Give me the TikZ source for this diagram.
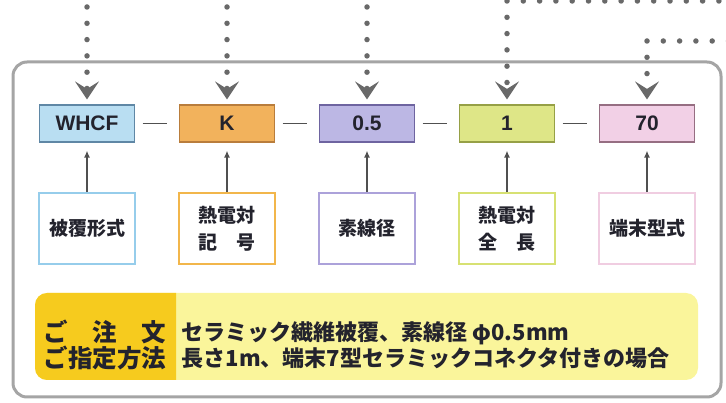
\documentclass[tikz,border=0pt]{standalone}
\usepackage{fontspec}
\setmainfont{Liberation Sans}
\newfontfamily\jp{Noto Sans CJK JP}
\usetikzlibrary{positioning,arrows.meta}

\definecolor{framegray}{RGB}{165,165,165}
\definecolor{dotgray}{RGB}{105,105,105}
\definecolor{arrowgray}{RGB}{80,80,80}
\definecolor{textdark}{RGB}{35,35,45}
\definecolor{bluefill}{RGB}{185,222,242}
\definecolor{blueline}{RGB}{95,135,165}
\definecolor{bluelight}{RGB}{150,205,235}
\definecolor{orangefill}{RGB}{242,178,92}
\definecolor{orangeline}{RGB}{185,125,60}
\definecolor{orangelight}{RGB}{242,182,75}
\definecolor{purplefill}{RGB}{188,183,228}
\definecolor{purpleline}{RGB}{110,100,160}
\definecolor{purplelight}{RGB}{172,162,218}
\definecolor{greenfill}{RGB}{222,230,135}
\definecolor{greenline}{RGB}{150,160,70}
\definecolor{greenlight}{RGB}{215,225,115}
\definecolor{pinkfill}{RGB}{242,208,230}
\definecolor{pinkline}{RGB}{150,110,130}
\definecolor{pinklight}{RGB}{240,205,225}
\definecolor{notedark}{RGB}{246,203,30}
\definecolor{notelight}{RGB}{250,245,155}

\begin{document}
\begin{tikzpicture}[x=1pt, y=1pt, node distance=140pt, thick,
    code/.style={draw, minimum width=95pt, minimum height=37pt, inner sep=0pt, line width=1.2pt,
        text=textdark, font=\fontsize{21}{21}\selectfont\bfseries},
    field/.style={draw, fill=white, minimum width=96pt, minimum height=71pt, inner sep=0pt, line width=1.5pt,
        align=center, text=textdark, font=\jp\fontsize{19}{27}\selectfont\bfseries},
    feed/.style={draw=dotgray, line width=5.5pt, dash pattern=on 0pt off 16.3pt, line cap=round,
        -{Stealth[length=18pt, width=24pt, inset=7.5pt, line width=0pt]}, shorten >=5pt},
    pointer/.style={draw=arrowgray, line width=1.3pt, -{Latex[length=7pt, width=6pt]}, shorten >=8pt},
    joint/.style={draw=arrowgray, line width=1.5pt, shorten <=7.5pt, shorten >=11.5pt}]
    \useasboundingbox (0,0) rectangle (726,-403);

    % outer frame and order note
    \draw[framegray, line width=3pt, rounded corners=14pt] (13,-62) rectangle (721,-397);
    \fill[notelight, rounded corners=12pt] (35,-293) rectangle (698,-380);
    \begin{scope}
        \clip (35,-293) rectangle (176,-380);
        \fill[notedark, rounded corners=12pt] (35,-293) rectangle (200,-380);
    \end{scope}

    % code boxes
    \node (whcf) [code, fill=bluefill, draw=blueline] at (87,-123.5) {WHCF};
    \node (k) [code, fill=orangefill, draw=orangeline, right of=whcf] {K};
    \node (dia) [code, fill=purplefill, draw=purpleline, right of=k] {0.5};
    \node (len) [code, fill=greenfill, draw=greenline, right of=dia] {1};
    \node (term) [code, fill=pinkfill, draw=pinkline, right of=len] {70};

    % field boxes
    \node (sheath) [field, draw=bluelight, below of=whcf, node distance=105pt] {被覆形式};
    \node (couple) [field, draw=orangelight, below of=k, node distance=105pt] {熱電対\\記　号};
    \node (wire) [field, draw=purplelight, below of=dia, node distance=105pt] {素線径};
    \node (total) [field, draw=greenlight, below of=len, node distance=105pt] {熱電対\\全　長};
    \node (plug) [field, draw=pinklight, below of=term, node distance=105pt] {端末型式};

    \draw[joint] (whcf) -- (k);
    \draw[joint] (k) -- (dia);
    \draw[joint] (dia) -- (len);
    \draw[joint] (len) -- (term);

    \draw[pointer] (sheath) -- (whcf);
    \draw[pointer] (couple) -- (k);
    \draw[pointer] (wire) -- (dia);
    \draw[pointer] (total) -- (len);
    \draw[pointer] (plug) -- (term);

    % dotted feeds from above
    \coordinate[above of=whcf, node distance=116.5pt] (in1);
    \coordinate[above of=k, node distance=116.5pt] (in2);
    \coordinate[above of=dia, node distance=116.5pt] (in3);
    \coordinate (in4) at (735.2,-1);
    \coordinate (in5) at (728.5,-41);
    \draw[feed] (in1) -- (whcf);
    \draw[feed] (in2) -- (k);
    \draw[feed] (in3) -- (dia);
    \draw[feed] (in4) -| (len);
    \draw[feed] (in5) -| (term);

    % order text
    \node (howto) [align=center, text=textdark, font=\jp\fontsize{24.5}{26}\selectfont\bfseries] at (105,-345) {ご　注　文\\ご指定方法};
    \node (sample) [anchor=west, align=left, text=textdark, font=\jp\fontsize{22}{26}\selectfont\bfseries] at (178,-345)
        {セラミック繊維被覆、素線径 φ0.5mm\\長さ1m、端末7型セラミックコネクタ付きの場合};
\end{tikzpicture}
\end{document}
